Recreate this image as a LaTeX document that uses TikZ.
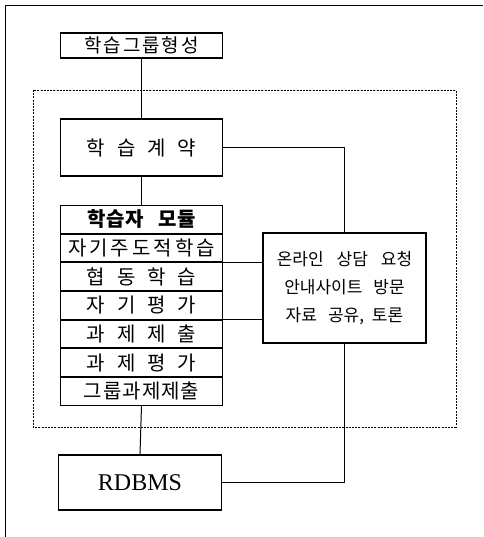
\documentclass[tikz,border=0pt]{standalone}
\usepackage{fontspec}
\newfontfamily\kr{Noto Sans CJK KR}
\newfontfamily\rdbfont{Liberation Serif}
\newcommand{\gp}{\hspace{12pt}}
\newcommand{\lsp}{\hspace{2pt}}
\begin{document}
\begin{tikzpicture}[x=1pt,y=-1pt,
  box/.style={draw, line width=1.1pt, inner sep=0pt, minimum width=162pt, font=\kr\fontsize{20}{20}\selectfont},
  row/.style={box, minimum height=27.57pt},
  conn/.style={line width=1pt},
  link/.style={line width=0.8pt},
  region/.style={line width=0.9pt, dash pattern=on 2pt off 1.2pt}]
\useasboundingbox (0,0) rectangle (483,537);
% outer frame (top and left edges)
\draw[line width=1pt] (5,537) -- (5,6) -- (483,6);
% dashed region
\draw[region] (33,90) rectangle (456,427);
% nodes
\node[box, minimum height=25pt, font=\kr\fontsize{19}{19}\selectfont] (grp) at (141.5,45.5) {학\lsp 습\lsp 그\lsp 룹\lsp 형\lsp 성};
\node[box, minimum height=57pt] (contract) at (141.5,147.5) {학\gp 습\gp 계\gp 약};
\node[row, anchor=north] (r1) at (141.5,205) {\bfseries 학\hspace{1pt}습\hspace{1pt}자\hspace{14pt}모\hspace{1pt}듈};
\node[row, anchor=north] (r2) at (r1.south) {자\hspace{3pt}기\hspace{3pt}주\hspace{3pt}도\hspace{3pt}적\hspace{3pt}학\hspace{3pt}습};
\node[row, anchor=north] (r3) at (r2.south) {협\gp 동\gp 학\gp 습};
\node[row, anchor=north] (r4) at (r3.south) {자\gp 기\gp 평\gp 가};
\node[row, anchor=north] (r5) at (r4.south) {과\gp 제\gp 제\gp 출};
\node[row, anchor=north] (r6) at (r5.south) {과\gp 제\gp 평\gp 가};
\node[row, anchor=north] (r7) at (r6.south) {그\hspace{1pt}룹\hspace{1pt}과\hspace{1pt}제\hspace{1pt}제\hspace{1pt}출};
\node[box, minimum width=163pt, minimum height=110pt, align=center,
      font=\kr\fontsize{17}{28}\selectfont] (online) at (344.5,288)
  {온라인\hspace{13pt}상담\hspace{13pt}요청\\안내사이트\hspace{11pt}방문\\자료\hspace{11pt}공유,\hspace{8pt}토론};
\node[box, minimum width=163pt, minimum height=55pt, font=\rdbfont\fontsize{24}{24}\selectfont] (rdb) at (140,482.5) {RDBMS};
% connectors
\draw[conn] (grp.south) -- (contract.north);
\draw[conn] (contract.east) -| (online.north);
\draw[conn] (contract.south) -- (r1.north);
\draw[link] (r2.south east) -- (r2.south east -| online.west);
\draw[link] (r4.south east) -- (r4.south east -| online.west);
\draw[conn] (r7.south) -- (rdb.north);
\draw[conn] (online.south) |- (rdb.east);
\end{tikzpicture}
\end{document}
